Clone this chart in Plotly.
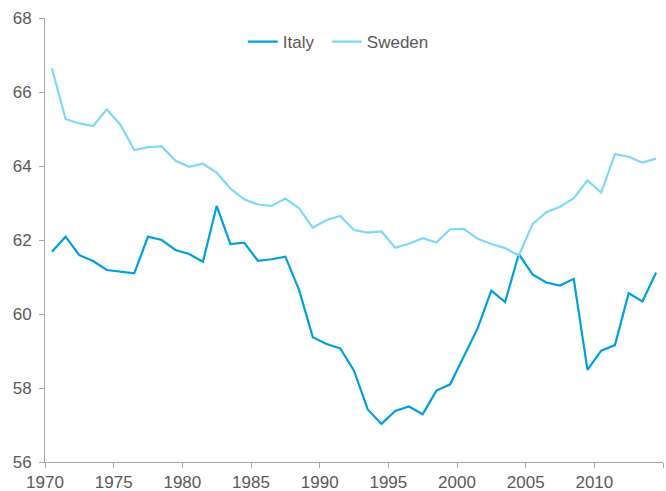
import plotly.graph_objects as go

years = list(range(1970, 2015))
italy = [61.68, 62.09, 61.59, 61.43, 61.19, 61.14, 61.10, 62.09, 62.00, 61.73,
         61.62, 61.41, 62.92, 61.89, 61.93, 61.44, 61.48, 61.55, 60.65, 59.37,
         59.19, 59.07, 58.47, 57.42, 57.03, 57.38, 57.50, 57.29, 57.93, 58.10,
         58.85, 59.61, 60.63, 60.32, 61.62, 61.07, 60.85, 60.77, 60.95, 58.49,
         59.01, 59.16, 60.56, 60.34, 61.12]
sweden = [66.64, 65.27, 65.15, 65.08, 65.53, 65.11, 64.43, 64.51, 64.53, 64.14,
          63.98, 64.06, 63.82, 63.39, 63.10, 62.96, 62.92, 63.12, 62.86, 62.33,
          62.54, 62.65, 62.27, 62.20, 62.23, 61.79, 61.90, 62.05, 61.93, 62.29,
          62.30, 62.03, 61.89, 61.78, 61.58, 62.43, 62.75, 62.90, 63.13, 63.61,
          63.28, 64.32, 64.25, 64.09, 64.20]
x_tick_years = [1970, 1975, 1980, 1985, 1990, 1995, 2000, 2005, 2010, 2015]
x_tick_text = ["1970", "1975", "1980", "1985", "1990", "1995", "2000", "2005", "2010", ""]
y_ticks = [56, 58, 60, 62, 64, 66, 68]

gray = "#595959"
axis_col = "#a6a6a6"
fs = 17

fig = go.Figure()
fig.add_trace(go.Scatter(x=years, y=italy, mode="lines", name="Italy", legend="legend",
                         line=dict(color="#00a0dc", width=2.2)))
fig.add_trace(go.Scatter(x=years, y=sweden, mode="lines", name="Sweden", legend="legend2",
                         line=dict(color="#80d8f8", width=2.2)))

leg_common = dict(orientation="h", y=0.946, xanchor="left", yanchor="middle",
                  font=dict(size=fs, color=gray), bgcolor="rgba(0,0,0,0)")

fig.update_layout(
    width=666, height=491,
    margin=dict(l=45, r=3, t=18, b=29),
    paper_bgcolor="white", plot_bgcolor="white",
    font=dict(family="Liberation Sans, Arial, sans-serif", size=fs, color=gray),
    showlegend=True,
    legend=dict(x=0.32, **leg_common),
    legend2=dict(x=0.456, **leg_common),
    xaxis=dict(range=[1969.5, 2014.5], automargin=False,
               tickvals=[y - 0.5 for y in x_tick_years], ticktext=x_tick_text,
               showgrid=False, zeroline=False, showline=True, linecolor=axis_col,
               linewidth=1, ticks="outside", ticklen=5, tickcolor=axis_col,
               tickfont=dict(size=fs, color=gray)),
    yaxis=dict(range=[56, 68], tickvals=y_ticks, showgrid=False, zeroline=False,
               automargin=False,
               showline=True, linecolor=axis_col, linewidth=1, ticks="outside",
               ticklen=5, tickcolor=axis_col, ticklabelstandoff=4,
               tickfont=dict(size=fs, color=gray)),
)

fig.write_html("out.html", config={"displayModeBar": False},
               post_script="document.body.style.margin='0';document.body.style.overflow='hidden';")
